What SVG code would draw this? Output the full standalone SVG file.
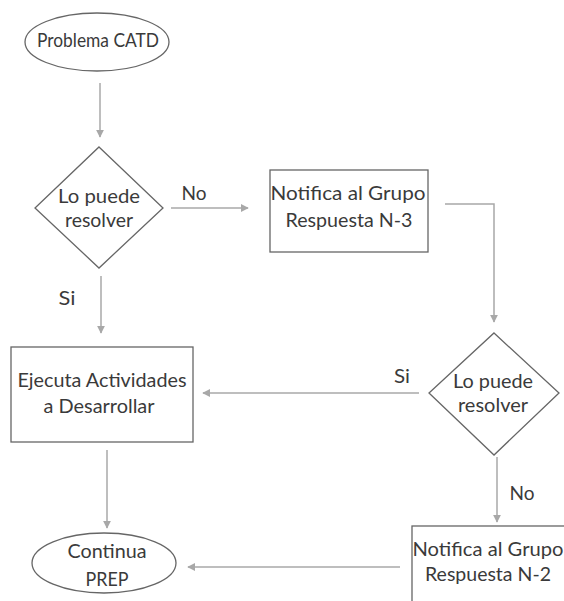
<svg xmlns="http://www.w3.org/2000/svg" width="564" height="601" viewBox="0 0 564 601">
<style>
.shape{fill:#ffffff;stroke:#666666;stroke-width:1.3}
.txt{font-family:"Lato","Liberation Sans",sans-serif;font-size:19px;fill:#3a3a3a;text-anchor:middle}
.conn{fill:none;stroke:#a8a8a8;stroke-width:1.5}
</style>
<defs>
<marker id="arr" viewBox="0 0 10 10" refX="9" refY="5" markerWidth="8" markerHeight="8" markerUnits="userSpaceOnUse" orient="auto">
<path d="M0,0 L10,5 L0,10 z" fill="#a8a8a8"/>
</marker>
</defs>
<rect width="564" height="601" fill="#ffffff"/>
<g id="connectors">
<line class="conn" x1="100" y1="83" x2="100" y2="137" marker-end="url(#arr)"/>
<line class="conn" x1="171" y1="208" x2="248" y2="208" marker-end="url(#arr)"/>
<polyline class="conn" points="445,204 494,204 494,322" marker-end="url(#arr)"/>
<line class="conn" x1="101" y1="276" x2="101" y2="333" marker-end="url(#arr)"/>
<line class="conn" x1="419" y1="393" x2="203" y2="393" marker-end="url(#arr)"/>
<line class="conn" x1="107" y1="450" x2="107" y2="528" marker-end="url(#arr)"/>
<line class="conn" x1="497" y1="457" x2="497" y2="522" marker-end="url(#arr)"/>
<line class="conn" x1="400" y1="567" x2="188" y2="567" marker-end="url(#arr)"/>
<text class="txt" x="194" y="200" textLength="25" lengthAdjust="spacingAndGlyphs">No</text>
<text class="txt" x="67" y="305" textLength="17" lengthAdjust="spacingAndGlyphs">Si</text>
<text class="txt" x="402" y="383" textLength="16" lengthAdjust="spacingAndGlyphs">Si</text>
<text class="txt" x="522" y="500" textLength="25" lengthAdjust="spacingAndGlyphs">No</text>
</g>
<g id="start">
<ellipse class="shape" cx="97" cy="42" rx="72" ry="29"/>
<text class="txt" x="98" y="47" textLength="122" lengthAdjust="spacingAndGlyphs">Problema CATD</text>
</g>
<g id="decision1">
<polygon class="shape" points="99,147 163,208 99,268 35,208"/>
<text class="txt" x="99" y="203" textLength="82" lengthAdjust="spacingAndGlyphs">Lo puede</text>
<text class="txt" x="99" y="227" textLength="68" lengthAdjust="spacingAndGlyphs">resolver</text>
</g>
<g id="notify3">
<rect class="shape" x="270" y="170" width="158" height="82"/>
<text class="txt" x="348" y="200" textLength="155" lengthAdjust="spacingAndGlyphs">Notifica al Grupo</text>
<text class="txt" x="349" y="227" textLength="127" lengthAdjust="spacingAndGlyphs">Respuesta N-3</text>
</g>
<g id="decision2">
<polygon class="shape" points="494,333 559,393 494,455 429,393"/>
<text class="txt" x="493" y="388" textLength="80" lengthAdjust="spacingAndGlyphs">Lo puede</text>
<text class="txt" x="493" y="412" textLength="70" lengthAdjust="spacingAndGlyphs">resolver</text>
</g>
<g id="execute">
<rect class="shape" x="11" y="347" width="182" height="95"/>
<text class="txt" x="102" y="387" textLength="169" lengthAdjust="spacingAndGlyphs">Ejecuta Actividades</text>
<text class="txt" x="99" y="413" textLength="111" lengthAdjust="spacingAndGlyphs">a Desarrollar</text>
</g>
<g id="notify2">
<rect class="shape" x="412" y="526" width="160" height="80"/>
<text class="txt" x="488" y="556" textLength="151" lengthAdjust="spacingAndGlyphs">Notifica al Grupo</text>
<text class="txt" x="488" y="581" textLength="126" lengthAdjust="spacingAndGlyphs">Respuesta N-2</text>
</g>
<g id="end">
<ellipse class="shape" cx="104" cy="563" rx="72" ry="30"/>
<text class="txt" x="107" y="558" textLength="79" lengthAdjust="spacingAndGlyphs">Continua</text>
<text class="txt" x="107" y="586" textLength="43" lengthAdjust="spacingAndGlyphs">PREP</text>
</g>
</svg>
